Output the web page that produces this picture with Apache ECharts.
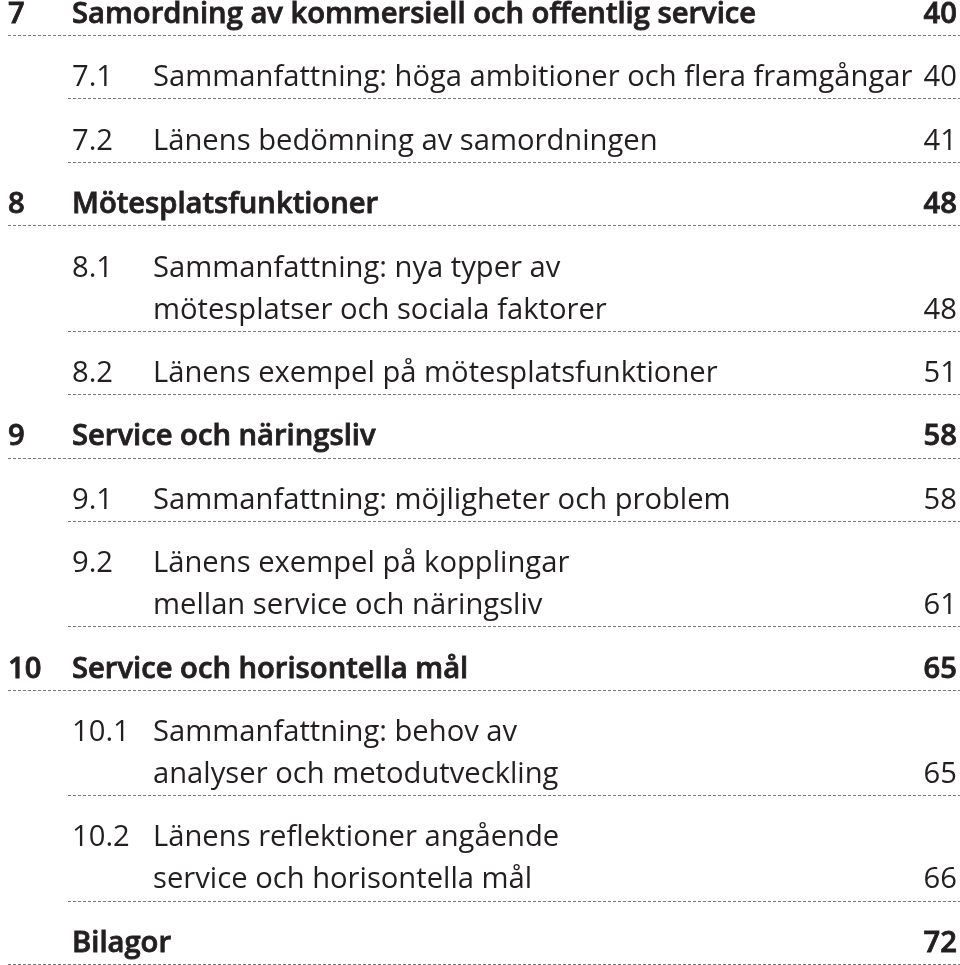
<!DOCTYPE html>
<html><head><meta charset="utf-8">
<script src="https://cdn.jsdelivr.net/npm/echarts@6/dist/echarts.min.js"></script>
<style>html,body{margin:0;padding:0;background:#fff}#c{width:960px;height:965px}</style>
</head><body><div id="c"></div>
<script>
const numbers = ['7','7.1','7.2','8','8.1','8.2','9','9.1','9.2','10','10.1','10.2',''];
const titles = [
  ['Samordning av kommersiell och offentlig service'],
  ['Sammanfattning: höga ambitioner och flera framgångar'],
  ['Länens bedömning av samordningen'],
  ['Mötesplatsfunktioner'],
  ['Sammanfattning: nya typer av','mötesplatser och sociala faktorer'],
  ['Länens exempel på mötesplatsfunktioner'],
  ['Service och näringsliv'],
  ['Sammanfattning: möjligheter och problem'],
  ['Länens exempel på kopplingar','mellan service och näringsliv'],
  ['Service och horisontella mål'],
  ['Sammanfattning: behov av','analyser och metodutveckling'],
  ['Länens reflektioner angående','service och horisontella mål'],
  ['Bilagor']
];
const pages = [40,40,41,48,48,51,58,58,61,65,65,66,72];
const levels = [1,2,2,1,2,2,1,2,2,1,2,2,1];

const WRAP = 0.66;   // wrapped-line spacing relative to entry spacing
const FS = 29.2;
const FAM = '"Open Sans", "Noto Sans", sans-serif';
const COLOR = '#231f20';

// layout positions derived from the entries' line counts
const data = [];
let pos = 0;
numbers.forEach((n, i) => {
  data.push([0, pos, i]);
  pos += 1 + (titles[i].length - 1) * WRAP;
});
const lastPos = data[data.length - 1][1];

function renderItem(params, api) {
  const i = api.value(2);
  const base = api.coord([0, api.value(1)])[1];
  const step = api.size([0, WRAP])[1];
  const bold = levels[i] === 1;
  const font = (bold ? '600 ' : '') + FS + 'px ' + FAM;
  const numX = api.coord([bold ? 8 : 72, 0])[0];
  const titleX = api.coord([bold ? 72 : 153, 0])[0];
  const rightX = api.coord([957, 0])[0];
  const off = -0.36 * FS;
  const extra = bold ? {stroke: COLOR, lineWidth: 0.8} : {};
  const txt = (text, x, y, align) => ({type:'text', style:Object.assign({text, x, y, font, fill:COLOR, align, verticalAlign:'middle'}, extra)});
  const children = [];
  if (numbers[i]) children.push(txt(numbers[i], numX, base + off, 'left'));
  let yLast = base;
  titles[i].forEach((t, k) => {
    yLast = base + k * step;
    children.push(txt(t, titleX, yLast + off, 'left'));
  });
  children.push(txt(String(pages[i]), rightX, yLast + off, 'right'));
  const ly = Math.round(yLast + 10) + 0.5;
  children.push({type:'line', shape:{x1: api.coord([bold ? 8 : 68,0])[0], y1: ly, x2: api.coord([960,0])[0], y2: ly},
    style:{stroke:'#7a7a7a', lineWidth:1, lineDash:[3,2]}});
  return {type:'group', children};
}

const chart = echarts.init(document.getElementById('c'), null, {renderer:'canvas'});
chart.setOption({
  animation:false,
  grid:{left:0,right:0,top:25,bottom:11},
  xAxis:{type:'value',min:0,max:960,show:false},
  yAxis:{type:'value',min:0,max:lastPos,inverse:true,show:false},
  series:[{type:'custom',renderItem,data,clip:false}]
});
</script></body></html>
